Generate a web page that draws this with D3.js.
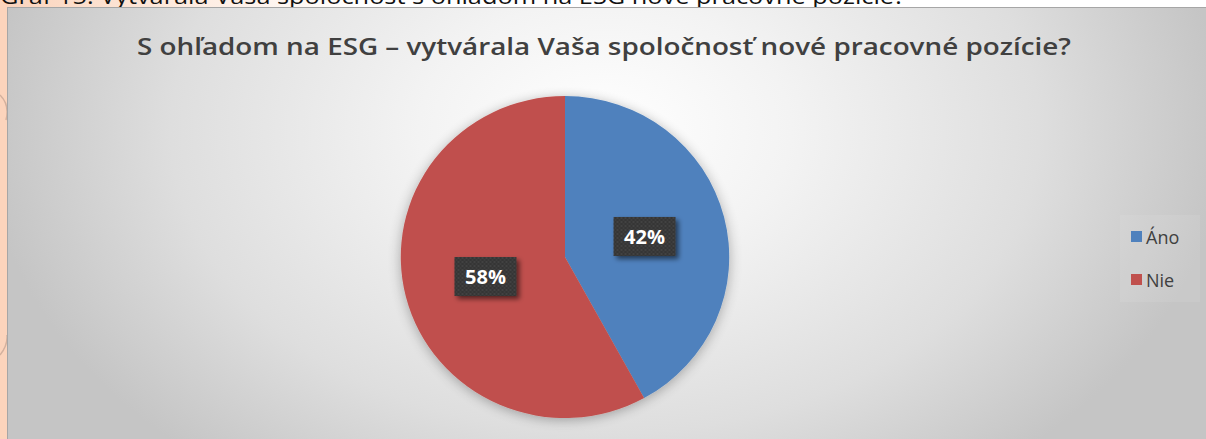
<!DOCTYPE html>
<html>
<head>
<meta charset="utf-8">
<script src="https://cdn.jsdelivr.net/npm/d3@7"></script>
<style>
  html, body { margin: 0; padding: 0; background: #fff; }
  svg { display: block; }
</style>
</head>
<body>
<div id="chart"></div>
<script>
const caption = "Graf 15: Vytvárala Vaša spoločnosť s ohľadom na ESG nové pracovné pozície?";
const title = "S ohľadom na ESG – vytvárala Vaša spoločnosť nové pracovné pozície?";
const categories = ["Áno", "Nie"];
const values = [42, 58];
const colors = ["#4f81bd", "#c0504d"];

const W = 1206, H = 439;
const font = "'Open Sans', sans-serif";
const svg = d3.select("#chart").append("svg").attr("width", W).attr("height", H);
const defs = svg.append("defs");

// page background (peach corner of the document page)
const pg = defs.append("linearGradient").attr("id", "page").attr("x1", 0).attr("x2", 1).attr("y1", 0).attr("y2", 0);
pg.append("stop").attr("offset", 0).attr("stop-color", "#fbd3bb");
pg.append("stop").attr("offset", 0.12).attr("stop-color", "#fde6d8");
pg.append("stop").attr("offset", 0.3).attr("stop-color", "#ffffff");
svg.append("rect").attr("width", W).attr("height", H).attr("fill", "url(#page)");
svg.append("rect").attr("width", 8).attr("height", H).attr("fill", "#fcd4bc");

// faint decorative arcs on the left strip
svg.append("path").attr("d", "M0,95 Q10,105 6,120").attr("fill", "none").attr("stroke", "#b89a8a").attr("stroke-width", 1.5).attr("opacity", 0.6);
svg.append("path").attr("d", "M0,355 Q8,345 7,335").attr("fill", "none").attr("stroke", "#b89a8a").attr("stroke-width", 1.5).attr("opacity", 0.6);

// caption of the document, cut off at the top edge as in the source
svg.append("text")
  .attr("x", 0).attr("y", 4)
  .attr("textLength", 905).attr("lengthAdjust", "spacingAndGlyphs")
  .style("font-family", font).style("font-size", "21px")
  .attr("fill", "#111")
  .text(caption);

// chart area background
const bg = defs.append("radialGradient").attr("id", "bg")
  .attr("gradientUnits", "userSpaceOnUse")
  .attr("cx", 605).attr("cy", 130).attr("r", 620)
  .attr("gradientTransform", "translate(605,130) scale(1,0.7) translate(-605,-130)");
bg.append("stop").attr("offset", 0).attr("stop-color", "#ffffff");
bg.append("stop").attr("offset", 0.3).attr("stop-color", "#f3f3f3");
bg.append("stop").attr("offset", 0.7).attr("stop-color", "#dedede");
bg.append("stop").attr("offset", 1).attr("stop-color", "#c5c5c5");

svg.append("rect")
  .attr("x", 7.5).attr("y", 7.5).attr("width", W - 6).attr("height", H)
  .attr("fill", "url(#bg)").attr("stroke", "#a6a6a6").attr("stroke-width", 1);

// title
svg.append("text")
  .attr("x", 137).attr("y", 55)
  .attr("textLength", 934).attr("lengthAdjust", "spacingAndGlyphs")
  .style("font-family", font).style("font-size", "22.5px").style("font-weight", 600)
  .attr("fill", "#404040")
  .text(title);

// filters
const sh = defs.append("filter").attr("id", "pieShadow").attr("x", "-20%").attr("y", "-20%").attr("width", "140%").attr("height", "140%");
sh.append("feGaussianBlur").attr("in", "SourceAlpha").attr("stdDeviation", 6);
sh.append("feOffset").attr("dx", 0).attr("dy", 2).attr("result", "b");
sh.append("feComponentTransfer").append("feFuncA").attr("type", "linear").attr("slope", 0.3);
const shm = sh.append("feMerge");
shm.append("feMergeNode");
shm.append("feMergeNode").attr("in", "SourceGraphic");

const ls = defs.append("filter").attr("id", "lblShadow").attr("x", "-30%").attr("y", "-30%").attr("width", "170%").attr("height", "170%");
ls.append("feGaussianBlur").attr("in", "SourceAlpha").attr("stdDeviation", 2.5);
ls.append("feOffset").attr("dx", 3).attr("dy", 3);
ls.append("feComponentTransfer").append("feFuncA").attr("type", "linear").attr("slope", 0.55);
const lsm = ls.append("feMerge");
lsm.append("feMergeNode");
lsm.append("feMergeNode").attr("in", "SourceGraphic");

const pat = defs.append("pattern").attr("id", "dots").attr("width", 4).attr("height", 4).attr("patternUnits", "userSpaceOnUse");
pat.append("rect").attr("width", 4).attr("height", 4).attr("fill", "#343434");
pat.append("circle").attr("cx", 1).attr("cy", 1).attr("r", 0.7).attr("fill", "#5a5a5a");
pat.append("circle").attr("cx", 3).attr("cy", 3).attr("r", 0.7).attr("fill", "#4a4a4a");

// pie
const cx = 565, cy = 257, r = 161;
const pie = d3.pie().sort(null).value(d => d.value);
const arc = d3.arc().innerRadius(0).outerRadius(r);
const data = categories.map((c, i) => ({ name: c, value: values[i], color: colors[i] }));
const arcs = pie(data);

const g = svg.append("g").attr("transform", `translate(${cx},${cy}) scale(1.02,1)`);
g.append("g").attr("filter", "url(#pieShadow)")
  .selectAll("path").data(arcs).enter().append("path")
  .attr("d", arc)
  .attr("fill", d => d.data.color)
  .attr("stroke", "none");

// data labels
const lbl = svg.append("g").selectAll("g.lbl").data(arcs).enter().append("g")
  .attr("class", "lbl")
  .attr("transform", d => { const c = arc.centroid(d); return `translate(${cx + c[0] * 1.02},${cy + c[1]})`; });
lbl.append("rect")
  .attr("x", -31).attr("y", -20).attr("width", 62).attr("height", 39)
  .attr("fill", "url(#dots)").attr("filter", "url(#lblShadow)");
lbl.append("text")
  .attr("text-anchor", "middle").attr("y", 7)
  .style("font-family", font).style("font-size", "20px").style("font-weight", "bold")
  .attr("fill", "#ffffff")
  .text(d => Math.round(d.data.value / d3.sum(values) * 100) + "%");

// legend
svg.append("rect").attr("x", 1120).attr("y", 215).attr("width", 80).attr("height", 87)
  .attr("fill", "#ffffff").attr("opacity", 0.08);
const lg = svg.append("g").attr("transform", "translate(1131,231)");
const li = lg.selectAll("g").data(data).enter().append("g")
  .attr("transform", (d, i) => `translate(0,${i * 43})`);
li.append("rect").attr("width", 11).attr("height", 11).attr("fill", d => d.color);
li.append("text").attr("x", 15).attr("y", 12.5)
  .style("font-family", font).style("font-size", "18px")
  .attr("fill", "#404040")
  .text(d => d.name);
</script>
</body>
</html>
